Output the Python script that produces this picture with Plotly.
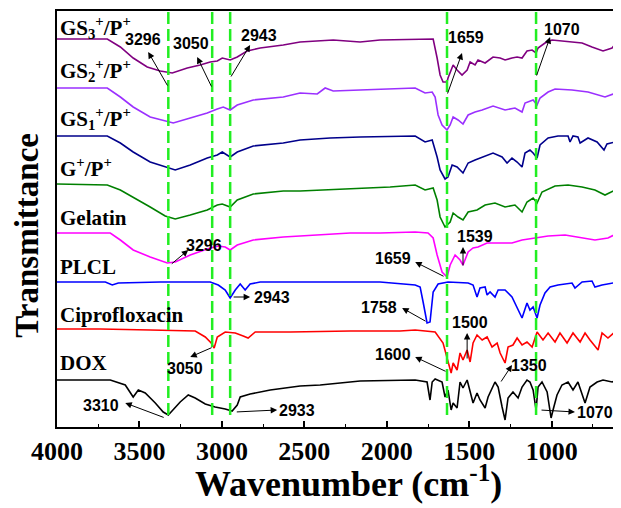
import plotly.graph_objects as go

# ---------------- data (wavenumber cm-1, transmittance a.u. with vertical offsets) -------------
gs3_wn = [4000, 3695, 3616, 3538, 3453, 3374, 3301, 3210, 3132, 3071, 3028, 2998, 2950, 2907, 2847, 2768,
          2628, 2526, 2325, 2162, 2041, 1828, 1719, 1695, 1677, 1659, 1635, 1629, 1598, 1574, 1544, 1513,
          1495, 1465, 1447, 1404, 1356, 1313, 1283, 1241, 1210, 1180, 1150, 1119, 1095, 1083, 1041, 998,
          938, 877, 816, 756, 689, 634, 598]
gs3_t = [388, 388, 380, 369, 360, 356, 354, 359, 362, 365, 366, 369, 367, 370, 376, 379,
         382, 385, 387, 385, 387, 388, 388, 369, 352, 345, 345, 349, 362, 357, 352, 357,
         365, 362, 367, 364, 370, 369, 367, 369, 370, 369, 376, 377, 374, 379, 384, 387,
         386, 385, 384, 380, 376, 379, 387]

gs2_wn = [4000, 3695, 3616, 3538, 3435, 3295, 3192, 3089, 3028, 2992, 2950, 2907, 2810, 2628, 2526, 2422,
          2374, 2325, 2162, 1980, 1828, 1768, 1725, 1707, 1689, 1665, 1635, 1616, 1598, 1568, 1538, 1507,
          1465, 1422, 1356, 1283, 1223, 1180, 1162, 1113, 1089, 1071, 1022, 980, 877, 780, 725, 677, 628, 592]
gs2_t = [339, 339, 330, 320, 310, 304, 309, 314, 318, 320, 317, 322, 327, 330, 334, 333,
         339, 336, 337, 338, 339, 334, 335, 330, 312, 302, 297, 302, 310, 307, 303, 312,
         315, 317, 321, 317, 319, 315, 324, 327, 322, 329, 335, 338, 337, 335, 332, 330, 333, 339]

gs1_wn = [4000, 3695, 3616, 3538, 3435, 3331, 3283, 3192, 3089, 3028, 2998, 2950, 2907, 2810, 2628, 2526,
          2344, 2162, 1920, 1828, 1768, 1725, 1695, 1677, 1647, 1629, 1604, 1574, 1538, 1507, 1465, 1422,
          1356, 1301, 1271, 1241, 1210, 1180, 1162, 1132, 1113, 1089, 1071, 1022, 962, 901, 889, 871, 841,
          828, 780, 725, 683, 665, 616, 592]
gs1_t = [291, 291, 284, 275, 265, 259, 257, 262, 269, 272, 275, 270, 275, 281, 284, 287,
         289, 290, 291, 291, 285, 287, 270, 257, 248, 250, 262, 260, 254, 264, 267, 270,
         274, 270, 264, 269, 265, 260, 274, 277, 274, 269, 282, 289, 291, 291, 285, 291, 290,
         284, 289, 285, 277, 283, 285, 292]

gp_wn = [4000, 3695, 3616, 3538, 3435, 3344, 3283, 3192, 3089, 3028, 2998, 2950, 2907, 2810, 2628, 2526,
         2222, 1980, 1828, 1768, 1719, 1695, 1677, 1647, 1616, 1598, 1568, 1538, 1507, 1453, 1404, 1344,
         1283, 1223, 1180, 1150, 1113, 1089, 1059, 980, 901, 816, 738, 677, 616, 592]
gp_t = [243, 242, 237, 230, 220, 211, 208, 212, 217, 222, 223, 220, 227, 233, 236, 236,
        238, 240, 242, 237, 239, 227, 210, 200, 205, 214, 210, 207, 215, 217, 222, 224,
        220, 222, 215, 225, 229, 224, 235, 241, 242, 240, 237, 232, 237, 244]

gel_wn = [4000, 3677, 3616, 3538, 3435, 3331, 3283, 3192, 3089, 3059, 3022, 2980, 2950, 2907, 2810, 2628,
          2422, 2222, 2041, 1828, 1750, 1719, 1695, 1665, 1635, 1616, 1586, 1556, 1538, 1507, 1477, 1447,
          1392, 1325, 1241, 1180, 1101, 1022, 919, 816, 738, 659, 598]
gel_t = [194, 194, 187, 177, 170, 164, 165, 172, 178, 179, 181, 180, 177, 182, 187, 190,
         192, 194, 194, 195, 194, 189, 172, 155, 150, 162, 172, 167, 162, 175, 179, 180,
         184, 184, 184, 187, 189, 191, 192, 189, 187, 189, 194]

plcl_wn = [4000, 3707, 3665, 3628, 3374, 3071, 3022, 2980, 2950, 2919, 2889, 2859, 2829, 2768, 2404, 2041,
           1828, 1798, 1780, 1756, 1738, 1719, 1689, 1629, 1507, 1477, 1453, 1435, 1404, 1392, 1374, 1344,
           1325, 1283, 1241, 1210, 1180, 1150, 1132, 1113, 1089, 1071, 1041, 1010, 962, 877, 859, 816, 756,
           738, 695, 598]
plcl_t = [145, 145, 142, 144, 145, 145, 142, 137, 129, 137, 143, 137, 143, 145, 145, 145,
          142, 140, 125, 104, 105, 135, 143, 145, 144, 142, 130, 139, 140, 132, 135, 130,
          137, 137, 130, 119, 109, 124, 117, 120, 109, 122, 134, 140, 142, 144, 139, 145, 146,
          140, 142, 145]

cip_wn = [4000, 3738, 3435, 3162, 3101, 3065, 3047, 3028, 2980, 2919, 2871, 2841, 2798, 2586, 2222, 1920,
          1828, 1707, 1659, 1629, 1610, 1598, 1574, 1556, 1538, 1513, 1495, 1477, 1453, 1422, 1392, 1362,
          1331, 1313, 1283, 1265, 1235, 1210, 1180, 1150, 1119, 1089, 1053, 1022, 980, 950, 907, 871, 828,
          798, 768, 719, 695, 659, 604]
cip_t = [98, 98, 97, 96, 90, 84, 79, 90, 95, 94, 91, 89, 95, 95, 96, 96,
         97, 95, 84, 65, 54, 64, 57, 74, 67, 77, 65, 84, 92, 87, 90, 80,
         84, 74, 64, 80, 82, 89, 82, 85, 80, 95, 87, 94, 85, 94, 84, 94, 85,
         94, 87, 77, 94, 89, 97]

dox_wn = [4000, 3677, 3586, 3556, 3538, 3507, 3465, 3404, 3356, 3325, 3295, 3253, 3204, 3162, 3101, 3041,
          2980, 2938, 2907, 2889, 2829, 2707, 2526, 2404, 2162, 1920, 1828, 1756, 1738, 1725, 1707, 1665,
          1647, 1629, 1610, 1598, 1574, 1556, 1538, 1513, 1495, 1477, 1453, 1435, 1404, 1386, 1344, 1325,
          1301, 1283, 1265, 1235, 1204, 1180, 1150, 1132, 1113, 1095, 1083, 1059, 1028, 1004, 992, 968,
          938, 901, 871, 841, 798, 768, 725, 689, 634, 598]
dox_t = [47, 47, 42, 35, 30, 37, 34, 24, 15, 12, 17, 25, 32, 29, 23, 20,
         18, 16, 22, 30, 33, 37, 41, 42, 46, 47, 47, 45, 27, 45, 48, 45,
         30, 37, 17, 24, 19, 45, 39, 47, 35, 24, 34, 27, 19, 30, 45, 40,
         20, 7, 29, 35, 29, 40, 47, 45, 37, 17, 40, 45, 35, 9, 17, 32,
         42, 45, 37, 45, 24, 40, 45, 47, 45, 48]

series_names = ["GS<sub>3</sub><sup>+</sup>/P<sup>+</sup>", "GS<sub>2</sub><sup>+</sup>/P<sup>+</sup>",
                "GS<sub>1</sub><sup>+</sup>/P<sup>+</sup>", "G<sup>+</sup>/P<sup>+</sup>",
                "Gelatin", "PLCL", "Ciprofloxacin", "DOX"]
series_wn = [gs3_wn, gs2_wn, gs1_wn, gp_wn, gel_wn, plcl_wn, cip_wn, dox_wn]
series_t = [gs3_t, gs2_t, gs1_t, gp_t, gel_t, plcl_t, cip_t, dox_t]
series_colors = ["#800080", "#9B30FF", "#00008B", "#008000", "#FF00FF", "#0000FF", "#FF0000", "#000000"]
label_t = [400, 357, 309, 260, 209, 160, 112, 64]

peak_lines = [3325, 3059, 2950, 1635, 1095]

# peak annotations: label, label position, arrow head, arrow tail (wavenumber, transmittance)
peak_labels = ["3296", "3050", "2943", "1659", "1070", "3296", "2943", "3050", "3310", "2933",
               "1659", "1539", "1758", "1500", "1600", "1350", "1070"]
label_pos = [(3480, 388), (3186, 384), (2774, 392), (1519, 390), (938, 398), (3107, 182), (2695, 130),
             (3222, 59), (3731, 22), (2544, 17), (1962, 169), (1465, 191), (2047, 120), (1495, 105),
             (1962, 73), (1138, 62), (738, 15)]
arrow_head = [(3447, 375), (3150, 370), (2829, 382), (1544, 374), (1010, 390), (3204, 177), (2829, 130),
              (3192, 70), (3586, 24), (2665, 17), (1828, 165), (1538, 180), (1907, 119), (1513, 94),
              (1828, 70), (1241, 62), (859, 15)]
arrow_tail = [(3325, 340), (3059, 339), (2950, 349), (1635, 332), (1095, 350), (3313, 162), (2938, 130),
              (3053, 80), (3344, 9), (2919, 15), (1647, 150), (1538, 160), (1756, 105), (1513, 67),
              (1635, 55), (1313, 44), (1071, 17)]

x_ticks = [4000, 3500, 3000, 2500, 2000, 1500, 1000]

# ---------------- figure -------------
fig = go.Figure()
for wn, t, c in zip(series_wn, series_t, series_colors):
    fig.add_trace(go.Scatter(x=wn, y=t, mode="lines", line=dict(color=c, width=1.6),
                             showlegend=False, hoverinfo="skip"))

for p in peak_lines:
    fig.add_shape(type="line", xref="x", yref="y", x0=p, x1=p, y0=12, y1=416,
                  line=dict(color="#22EE22", width=2.5, dash="12px,5px"))

annotations = []
for name, ty in zip(series_names, label_t):
    annotations.append(dict(x=3995, y=ty, xref="x", yref="y", text=name, showarrow=False,
                            xanchor="left", yanchor="middle",
                            font=dict(family="Liberation Serif", size=21, color="black", weight="bold")))
for txt, lp, hd, tl in zip(peak_labels, label_pos, arrow_head, arrow_tail):
    annotations.append(dict(x=lp[0], y=lp[1], xref="x", yref="y", text=txt, showarrow=False,
                            xanchor="center", yanchor="middle",
                            font=dict(family="Liberation Sans", size=16, color="black", weight="bold")))
    annotations.append(dict(x=hd[0], y=hd[1], xref="x", yref="y", ax=tl[0], ay=tl[1],
                            axref="x", ayref="y", text="", showarrow=True, arrowhead=2,
                            arrowsize=1.3, arrowwidth=1, arrowcolor="black", standoff=0, startstandoff=0))

annotations.append(dict(x=0.516, y=-0.132, xref="paper", yref="paper", showarrow=False,
                        text="Wavenumber (cm<sup>-1</sup>)", xanchor="center", yanchor="middle",
                        font=dict(family="Liberation Serif", size=36, color="black", weight="bold")))
annotations.append(dict(x=-0.053, y=0.46, xref="paper", yref="paper", showarrow=False,
                        text="Transmittance", textangle=-90, xanchor="center", yanchor="middle",
                        font=dict(family="Liberation Serif", size=33, color="black", weight="bold")))

# the page body adds an 8px offset, so the figure is sized to fill the window exactly
fig.update_layout(
    width=613, height=500,
    margin=dict(l=49, r=0, t=3, b=81),
    paper_bgcolor="white", plot_bgcolor="white",
    annotations=annotations,
    xaxis=dict(range=[4000, 580], tickvals=x_ticks, ticktext=[str(v) for v in x_ticks],
               ticks="inside", ticklen=6, tickwidth=1.5, tickcolor="black",
               minor=dict(ticks="inside", ticklen=3, dtick=250, tickcolor="black", tickwidth=1.2),
               showline=True, linecolor="black", linewidth=2, mirror=True,
               showgrid=False, zeroline=False,
               tickfont=dict(family="Liberation Serif", size=26, color="black", weight="bold")),
    yaxis=dict(range=[0, 416], showticklabels=False, ticks="", showline=True, linecolor="black",
               linewidth=2, mirror=False, showgrid=False, zeroline=False),
)

fig.write_html("out.html")
